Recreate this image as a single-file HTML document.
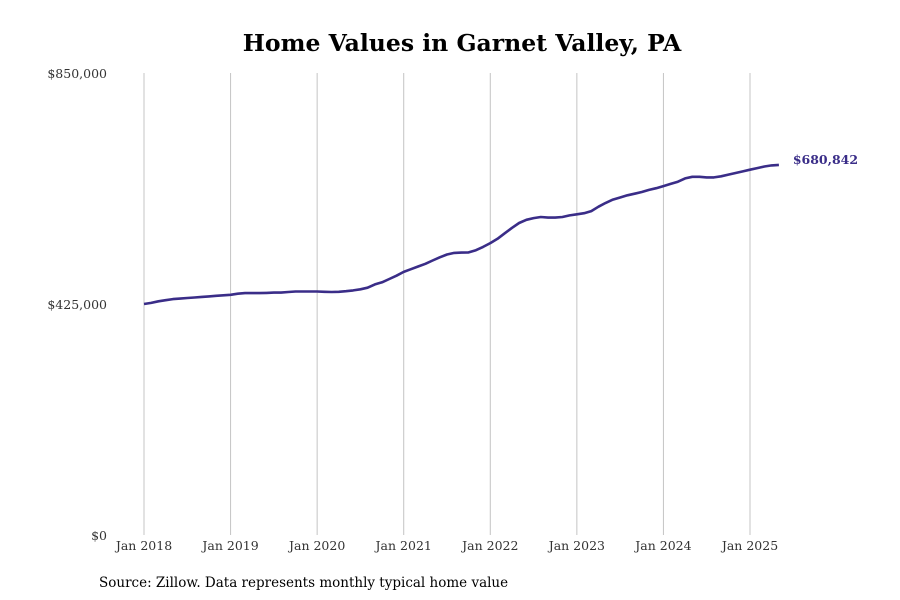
<!DOCTYPE html>
<html><head><meta charset="utf-8"><style>
body{margin:0;background:#fff;}
svg{display:block;font-family:"DejaVu Serif",serif;}
</style></head><body>
<svg id="chart" width="900" height="600">
<text x="462" y="51" text-anchor="middle" font-size="23.5" font-weight="bold" fill="#000">Home Values in Garnet Valley, PA</text>
<g id="grid"></g><g id="yaxis"></g><g id="xaxis"></g><g id="series"></g>
<text x="99" y="587" font-size="13.5" fill="#000">Source: Zillow. Data represents monthly typical home value</text>
</svg>
<script>
const yTicks=[0,425000,850000];
const yTickLabels=["$0","$425,000","$850,000"];
const xTickLabels=["Jan 2018","Jan 2019","Jan 2020","Jan 2021","Jan 2022","Jan 2023","Jan 2024","Jan 2025"];
const startYear=2018;
const values=[425,427,430,432,434,435,436,437,438,439,440,441,
442,444,445,445,445,445.5,446,446,447,448,448,448,
448,447.5,447,447.5,448.5,450,452,455,461,465,471,477,
484,489,494,499,505,511,516,519,519.5,520,524,530,
537,545,555,565,574,580,583,585,584,584,585,588,
590,592,596,604,611,617,621,625,628,631,635,638,
642,646,650,656,659,659,658,658,660,663,666,669,
672,675,678,680,680.842].map(v=>v*1000);
const lastLabel="$680,842";
const NS="http://www.w3.org/2000/svg";
const x=m=>144+m*(606/84);
const y=v=>535-v*(462/850000);
function mk(tag,attrs,parent,text){const e=document.createElementNS(NS,tag);for(const k in attrs)e.setAttribute(k,attrs[k]);if(text!==undefined)e.textContent=text;document.getElementById(parent).appendChild(e);return e;}
xTickLabels.forEach((l,i)=>{
 const g=mk('line',{x1:x(i*12),x2:x(i*12),y1:73,y2:535,stroke:'#c4c4c4','stroke-width':1},'grid');
 
 
 const t=mk('text',{x:x(i*12),y:550,'text-anchor':'middle','font-size':12.5,fill:'#333'},'xaxis',l);
 
 
});
yTicks.forEach((v,i)=>{
 const t=mk('text',{x:107,y:y(v)+5,'text-anchor':'end','font-size':12.5,fill:'#333'},'yaxis',yTickLabels[i]);
 
 
});
const d=values.map((v,i)=>(i?'L':'M')+x(i).toFixed(1)+','+y(v).toFixed(1)).join(' ');
const p=mk('path',{d:d,fill:'none',stroke:'#3a2d88','stroke-width':2.6,'stroke-linejoin':'round'},'series');


const li=values.length-1;
const lt=mk('text',{x:x(li)+14,y:y(values[li])-1,'font-size':12.5,'font-weight':'bold',fill:'#3a2d88'},'series',lastLabel);


</script>
</body></html>
